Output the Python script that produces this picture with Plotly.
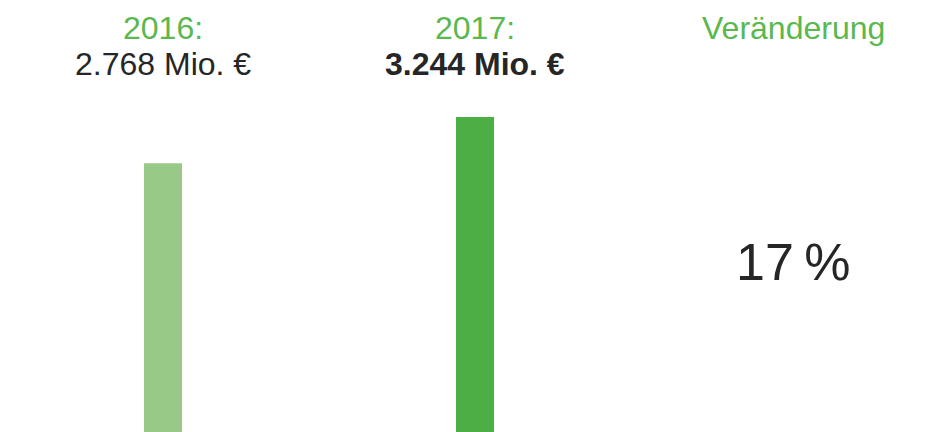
import plotly.graph_objects as go

# Revenue by year (Mio. €)
years = ["2016", "2017"]
values = [2768, 3244]
value_labels = ["2.768 Mio. €", "3.244 Mio. €"]
bar_colors = ["#98C987", "#4BAF46"]
change_title = "Veränderung"

change_pct = round((values[1] - values[0]) / values[0] * 100)
change_label = f"{change_pct}\u2009%"

GREEN_TEXT = "#5AB84F"
DARK_TEXT = "#262626"
FONT = "Liberation Sans"

x_pos = [0, 1]
fig = go.Figure()
fig.add_trace(go.Bar(
    x=x_pos, y=values, width=0.122,
    marker=dict(color=bar_colors, line=dict(width=0)),
    hoverinfo="skip",
))

annotations = []
for xp, yr, lab, bold in zip(x_pos, years, value_labels, [False, True]):
    annotations.append(dict(
        x=xp, y=1 - 28 / 432, xref="x", yref="paper", text=f"{yr}:",
        showarrow=False, font=dict(family=FONT, size=32, color=GREEN_TEXT),
        xanchor="center", yanchor="middle"))
    annotations.append(dict(
        x=xp, y=1 - 64 / 432, xref="x", yref="paper",
        text=f"<b>{lab}</b>" if bold else lab,
        showarrow=False, font=dict(family=FONT, size=32, color=DARK_TEXT),
        xanchor="center", yanchor="middle"))

annotations.append(dict(
    x=2.022, y=1 - 28 / 432, xref="x", yref="paper", text=change_title,
    showarrow=False, font=dict(family=FONT, size=32, color=GREEN_TEXT),
    xanchor="center", yanchor="middle"))
annotations.append(dict(
    x=2.022, y=1 - 262 / 432, xref="x", yref="paper", text=change_label,
    showarrow=False, font=dict(family=FONT, size=52, color=DARK_TEXT),
    xanchor="center", yanchor="middle"))

fig.update_layout(
    width=939, height=432,
    margin=dict(l=0, r=0, t=0, b=0),
    paper_bgcolor="white", plot_bgcolor="white",
    showlegend=False,
    xaxis=dict(range=[-0.5224, 2.487], visible=False, fixedrange=True),
    yaxis=dict(range=[0, 4449], visible=False, fixedrange=True),
    annotations=annotations,
)

fig.write_html("out.html", config={"displayModeBar": False})
